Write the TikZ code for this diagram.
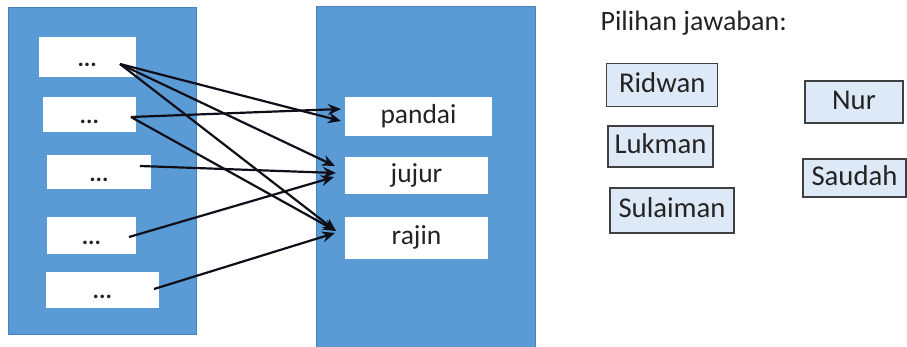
\documentclass[tikz,border=0pt]{standalone}
\usepackage{fontspec}
\setmainfont{Carlito}
\usetikzlibrary{arrows.meta}
\definecolor{panelblue}{RGB}{91,155,213}
\definecolor{paneledge}{RGB}{70,130,190}
\definecolor{namefill}{RGB}{221,233,246}
\definecolor{nameborder}{RGB}{64,64,64}
\definecolor{inktext}{RGB}{35,35,35}
\definecolor{linkink}{RGB}{15,15,25}
\begin{document}
\begin{tikzpicture}[x=1pt,y=-1pt,
  panel/.style={fill=panelblue, draw=paneledge, line width=0.8pt, inner sep=0pt, outer sep=0pt},
  dotbox/.style={fill=white, draw=none, inner sep=0pt, outer sep=0pt, text height=18pt, text depth=0pt, text=inktext, font=\fontsize{24}{28}\selectfont\bfseries},
  wordbox/.style={fill=white, draw=none, inner sep=0pt, outer sep=0pt, text height=19pt, text depth=6pt, text=inktext, font=\fontsize{27.5}{32}\selectfont},
  namebox/.style={fill=namefill, draw=nameborder, line width=1.3pt, inner sep=0pt, outer sep=0pt, text height=20pt, text depth=6pt, text=inktext, font=\fontsize{28.7}{34}\selectfont},
  link/.style={-{Stealth[length=13pt,width=11pt]}, line width=2.2pt, linkink}]
\useasboundingbox (0,0) rectangle (907,346);
% panels
\node[panel, minimum width=188pt, minimum height=327pt] (leftpanel) at (102,170.5) {};
\node[panel, minimum width=219pt, minimum height=342pt] (rightpanel) at (425.5,177.5) {};
% left boxes
\node[dotbox, minimum width=97pt, minimum height=40.6pt] (l1) at (87.2,57) {...};
\node[dotbox, minimum width=93pt, minimum height=34.4pt] (l2) at (89.3,114.5) {...};
\node[dotbox, minimum width=103.7pt, minimum height=34pt] (l3) at (98.9,172) {...};
\node[dotbox, minimum width=88.7pt, minimum height=37.3pt] (l4) at (91.4,235.3) {...};
\node[dotbox, minimum width=113.3pt, minimum height=36.3pt] (l5) at (102.3,289.8) {...};
% right boxes
\node[wordbox, minimum width=147pt, minimum height=38.7pt] (pandai) at (418.5,116.6) {pandai};
\node[wordbox, minimum width=143pt, minimum height=37.6pt] (jujur) at (416.5,175.5) {jujur};
\node[wordbox, minimum width=143pt, minimum height=41.7pt] (rajin) at (416.5,238.2) {rajin};
% answer choices
\node[anchor=base west, text=inktext, font=\fontsize{28}{33}\selectfont] (title) at (597,30) {Pilihan jawaban:};
\node[namebox, minimum width=111pt, minimum height=43.4pt] (ridwan) at (662.2,85) {Ridwan};
\node[namebox, minimum width=105pt, minimum height=41pt] (lukman) at (660.5,146.5) {Lukman};
\node[namebox, minimum width=124pt, minimum height=45pt] (sulaiman) at (672,210.5) {Sulaiman};
\node[namebox, minimum width=98pt, minimum height=42pt] (nur) at (854,102) {Nur};
\node[namebox, minimum width=103pt, minimum height=38pt] (saudah) at (854.5,178) {Saudah};
% arrow end points
\coordinate (s1) at (120,64);
\coordinate (s2) at (131,117);
\coordinate (s3) at (140,166);
\coordinate (s4) at (129,237);
\coordinate (s5) at (154,289);
\coordinate (pA) at (341,109);
\coordinate (pB) at (341,121);
\coordinate (jA) at (335,166);
\coordinate (jB) at (336,173);
\coordinate (jC) at (334,177);
\coordinate (rA) at (336,231);
\coordinate (rB) at (335,233);
% arrows
\draw[link] (s1) -- (pB);
\draw[link] (s1) -- (jA);
\draw[link] (s1) -- (rA);
\draw[link] (s2) -- (pA);
\draw[link] (s2) -- (rA);
\draw[link] (s3) -- (jB);
\draw[link] (s4) -- (jC);
\draw[link] (s5) -- (rB);
\end{tikzpicture}
\end{document}
